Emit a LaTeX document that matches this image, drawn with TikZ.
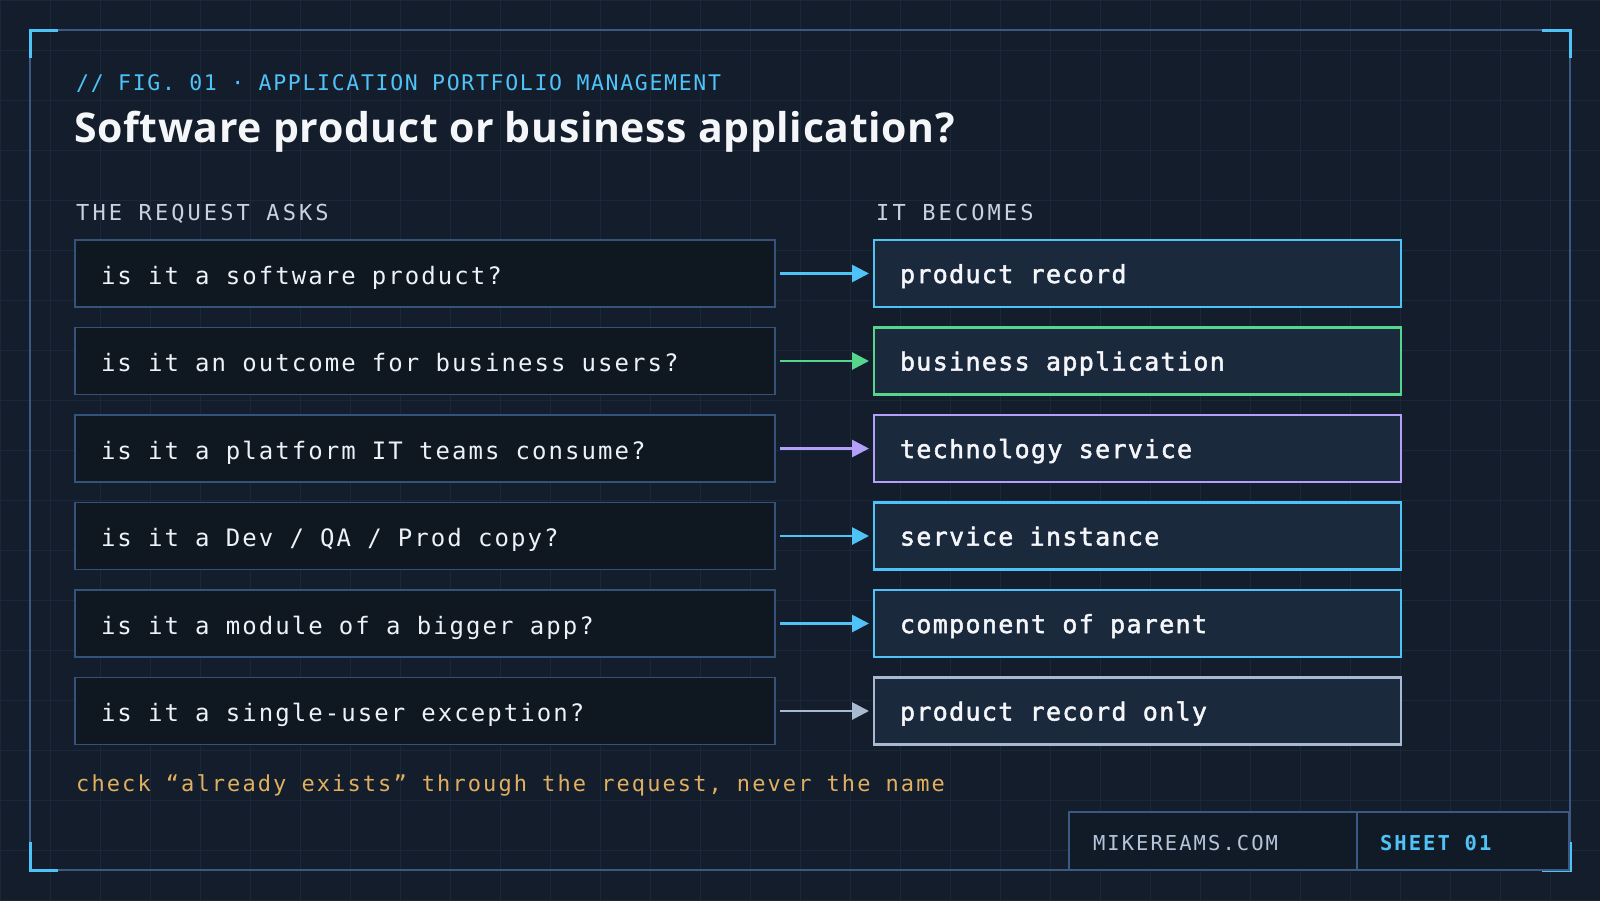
\documentclass[tikz,border=0pt]{standalone}
\usepackage{fontspec}
\usetikzlibrary{arrows.meta}
\setmainfont{DejaVu Sans Mono}
\newfontfamily\titlefont[LetterSpace=1.5]{Open Sans}
\newfontfamily\hdfont[LetterSpace=7.8]{DejaVu Sans Mono}
\newfontfamily\lblfont[LetterSpace=14]{DejaVu Sans Mono}
\newfontfamily\qfont[LetterSpace=8.5]{DejaVu Sans Mono}
\newfontfamily\afont[LetterSpace=5.3, FakeBold=2]{DejaVu Sans Mono}
\newfontfamily\notefont[LetterSpace=9.5]{DejaVu Sans Mono}
\newfontfamily\footfont[LetterSpace=10]{DejaVu Sans Mono}
\newcommand\fixsp[1]{\spaceskip=#1pt plus 0pt minus 0pt\relax}
\definecolor{bg}{HTML}{131D2B}
\definecolor{gridc}{HTML}{1A2939}
\definecolor{framec}{HTML}{3A5A82}
\definecolor{cblue}{HTML}{4FC3F7}
\definecolor{cgreen}{HTML}{56D68C}
\definecolor{cpurple}{HTML}{B4A0FA}
\definecolor{cgray}{HTML}{AAB9D2}
\definecolor{cgold}{HTML}{E0B060}
\definecolor{qfill}{HTML}{0F1721}
\definecolor{qline}{HTML}{34527A}
\definecolor{afill}{HTML}{1B293D}
\definecolor{titlec}{HTML}{F4F6FA}
\definecolor{lblc}{HTML}{C9D3E0}
\definecolor{qtext}{HTML}{EEF2F7}
\definecolor{ffill}{HTML}{111A27}
\definecolor{footc}{HTML}{B4C5DA}
\begin{document}
\begin{tikzpicture}[x=1pt,y=-1pt,
  qbox/.style={draw=qline, fill=qfill, line width=1.6pt, outer sep=0pt,
    minimum height=67pt, text width=648pt, inner xsep=26pt, inner ysep=0pt,
    align=flush left, text=qtext, font=\qfont\fontsize{24}{28}\selectfont\fixsp{16.2},
    text height=23pt, text depth=2pt, anchor=north west},
  abox/.style={fill=afill, line width=2.5pt, outer sep=0pt,
    minimum height=67pt, text width=475pt, inner xsep=26pt, inner ysep=0pt,
    align=flush left, text=titlec, font=\afont\fontsize{25}{28}\selectfont\fixsp{16.3},
    text height=22pt, text depth=3pt, anchor=north west},
  conn/.style={line width=2.8pt, shorten <=5pt, shorten >=5pt,
    -{Triangle[length=17pt,width=17pt]}},
  lbl/.style={anchor=base west, inner sep=0pt, text=lblc,
    font=\lblfont\fontsize{22}{26}\selectfont\fixsp{16.6}},
  fbox/.style={draw=framec, fill=ffill, line width=1.5pt, outer sep=0pt,
    minimum height=58pt, inner ysep=0pt, align=flush left, anchor=north west,
    text height=19pt, text depth=1pt},
  corner/.style={draw=cblue, line width=3pt}
]
\useasboundingbox (0,0) rectangle (1600,900);
\fill[bg] (0,0) rectangle (1600,900);
\foreach \gx in {0,50,...,1600} \draw[gridc, line width=1pt] (\gx,0) -- (\gx,900);
\foreach \gy in {0,50,...,900} \draw[gridc, line width=1pt] (0,\gy) -- (1600,\gy);

% frame
\draw[framec, line width=1.5pt] (30,30) rectangle (1570,870);
\draw[corner] (30,58) -- (30,30) -- (58,30);
\draw[corner] (1542,30) -- (1570,30) -- (1570,58);
\draw[corner] (30,842) -- (30,870) -- (58,870);
\draw[corner] (1542,870) -- (1570,870) -- (1570,842);

% header
\node[anchor=base west, inner sep=0pt, text=cblue, font=\hdfont\fontsize{21.5}{26}\selectfont\fixsp{14.4}] (fig) at (76,90.7) {// FIG. 01 · APPLICATION PORTFOLIO MANAGEMENT};
\node[anchor=base west, inner sep=0pt, text=titlec, font=\titlefont\bfseries\fontsize{41}{48}\selectfont] (title) at (74,142.3) {Software product or business application?};

\node[lbl] (lblL) at (76,220) {THE REQUEST ASKS};
\node[lbl] (lblR) at (876,220) {IT BECOMES};

% rows
\node[qbox] (q1) at (75,240) {is it a software product?};
\node[qbox] (q2) at (75,327.5) {is it an outcome for business users?};
\node[qbox] (q3) at (75,415) {is it a platform IT teams consume?};
\node[qbox] (q4) at (75,502.5) {is it a Dev / QA / Prod copy?};
\node[qbox] (q5) at (75,590) {is it a module of a bigger app?};
\node[qbox] (q6) at (75,677.5) {is it a single-user exception?};

\node[abox, draw=cblue] (a1) at (874,240) {product record};
\node[abox, draw=cgreen] (a2) at (874,327.5) {business application};
\node[abox, draw=cpurple] (a3) at (874,415) {technology service};
\node[abox, draw=cblue] (a4) at (874,502.5) {service instance};
\node[abox, draw=cblue] (a5) at (874,590) {component of parent};
\node[abox, draw=cgray] (a6) at (874,677.5) {product record only};

\draw[conn, cblue] (q1) -- (a1);
\draw[conn, cgreen] (q2) -- (a2);
\draw[conn, cpurple] (q3) -- (a3);
\draw[conn, cblue] (q4) -- (a4);
\draw[conn, cblue] (q5) -- (a5);
\draw[conn, cgray] (q6) -- (a6);

% note
\node[anchor=base west, inner sep=0pt, text=cgold, font=\notefont\fontsize{22}{26}\selectfont\fixsp{15.1}] (note) at (76,791.7) {check “already exists” through the request, never the name};

% footer
\node[fbox, minimum width=288pt, text width=240pt, inner xsep=24pt, text=footc, font=\footfont\fontsize{20.5}{24}\selectfont\fixsp{14.6}] (f1) at (1069,812) {MIKEREAMS.COM};
\node[fbox, minimum width=212pt, text width=166pt, inner xsep=23pt, text=cblue, font=\footfont\bfseries\fontsize{20.5}{24}\selectfont\fixsp{14.7}] (f2) at (1357,812) {SHEET 01};
\end{tikzpicture}
\end{document}
